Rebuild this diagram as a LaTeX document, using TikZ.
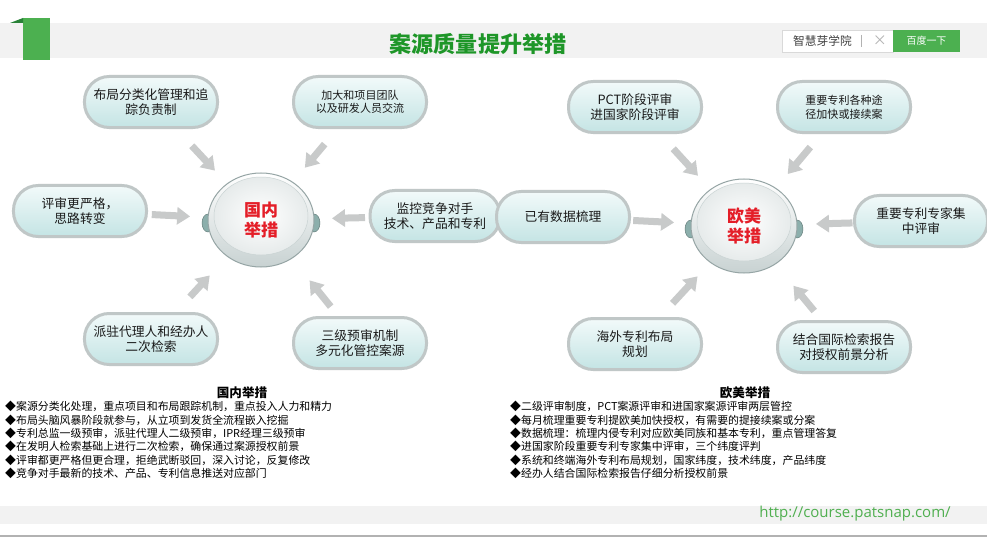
\documentclass[tikz,border=0pt]{standalone}
\usepackage{fontspec}
\setmainfont{Noto Sans CJK SC}
\newfontfamily\urlfont{Open Sans}
\usepackage{xcolor}
\usepackage{tikz}
\usetikzlibrary{arrows.meta,shapes.geometric}

\definecolor{brandgreen}{RGB}{76,176,80}
\definecolor{flaggreen}{RGB}{40,130,55}
\definecolor{titlegreen}{RGB}{30,150,40}
\definecolor{bandgray}{RGB}{242,242,242}
\definecolor{boxtop}{RGB}{242,250,250}
\definecolor{boxbot}{RGB}{196,228,228}
\definecolor{boxedge}{RGB}{192,199,199}
\definecolor{arrowgray}{RGB}{200,202,202}
\definecolor{potedge}{RGB}{150,165,165}
\definecolor{potrim}{RGB}{200,210,210}
\definecolor{handle}{RGB}{140,175,172}
\definecolor{potred}{RGB}{228,30,40}
\definecolor{urlgreen}{RGB}{80,175,80}

\tikzset{
  pill/.style={top color=boxtop, bottom color=boxbot, draw=boxedge, line width=0.09cm,
    rounded corners=0.74cm, minimum width=3.99cm, minimum height=1.53cm, inner sep=0pt,
    outer sep=0pt, align=center, text=black!90, font=\fontsize{10.9}{13}\selectfont},
  pillsmall/.style={pill, font=\fontsize{9.4}{11.6}\selectfont},
  potlabel/.style={ellipse, minimum width=3.18cm, minimum height=2.82cm, inner sep=0pt,
    outer sep=0pt, align=center, text=potred, font=\fontsize{14.5}{17.5}\selectfont\bfseries},
  flow/.style={draw=arrowgray, line width=0.21cm, -{Triangle[length=0.39cm,width=0.51cm]}},
  listhead/.style={font=\fontsize{10.7}{12}\selectfont\bfseries, inner sep=0pt},
  bullets/.style={anchor=north west, align=left, inner sep=0pt, font=\fontsize{9.3}{11.4}\selectfont}
}

\begin{document}
\begin{tikzpicture}[x=0.03cm, y=-0.03cm]
  \fill[white] (0,0) rectangle (987,537);
  \useasboundingbox (0,0) rectangle (987,537);
  % ------- header band -------
  \fill[bandgray] (0,23) rectangle (987,58);
  \fill[brandgreen] (23,18) rectangle (50,60);
  \fill[flaggreen] (10,23) -- (23,18) -- (23,23) -- cycle;
  \node[font=\fontsize{18.8}{20}\selectfont\bfseries, text=titlegreen] (title) at (478,44) {案源质量提升举措};
  \node[draw=black!15, fill=white, minimum width=3.33cm, minimum height=0.66cm, inner sep=0pt] (searchbox) at (837.5,41) {};
  \node[anchor=west, inner sep=0pt, font=\fontsize{10}{12}\selectfont, text=black!75] (query) at (793,41) {智慧芽学院};
  \draw[black!30] (861,35) -- (861,47);
  \node[text=black!30, font=\fontsize{12}{12}\selectfont] (clear) at (880,41) {×};
  \node[fill=brandgreen, minimum width=2.01cm, minimum height=0.66cm, inner sep=0pt, text=white,
    font=\fontsize{8.5}{10}\selectfont] (go) at (926.5,41) {百度一下};
  % ------- the two pots -------
  \foreach \cx/\cy in {261/220, 744/226} {
    \filldraw[fill=handle, draw=handle!70!black] (\cx-53,\cy+3) ellipse (0.18cm and 0.27cm);
    \filldraw[fill=handle, draw=handle!70!black] (\cx+53,\cy+3) ellipse (0.18cm and 0.27cm);
    \shade[top color=white, bottom color=potrim, draw=potedge, line width=0.03cm] (\cx,\cy) ellipse (1.59cm and 1.41cm);
    \shade[inner color=white, outer color=potrim!45, draw=potrim] (\cx,\cy-4) ellipse (1.41cm and 1.17cm);
  }
  \node[potlabel] (potL) at (261,220) {国内\\举措};
  \node[potlabel] (potR) at (744,226) {欧美\\举措};
  % ------- domestic measures -------
  \node[pill] (layout) at (151,102) {布局分类化管理和追\\踪负责制};
  \node[pillsmall] (team) at (360,102) {加大和项目团队\\以及研发人员交流};
  \node[pill] (review) at (80,211) {评审更严格，\\思路转变};
  \node[pill, minimum width=3.9cm] (rival) at (435,216) {监控竞争对手\\技术、产品和专利};
  \node[pill] (agent) at (151,339) {派驻代理人和经办人\\二次检索};
  \node[pill] (triple) at (360,343) {三级预审机制\\多元化管控案源};
  % ------- Europe / US measures -------
  \node[pill] (pct) at (635,107) {PCT阶段评审\\进国家阶段评审};
  \node[pillsmall] (speed) at (844,107) {重要专利各种途\\径加快或接续案};
  \node[pill] (data) at (563,217) {已有数据梳理};
  \node[pill] (expert) at (921,221) {重要专利专家集\\中评审};
  \node[pill] (abroad) at (635,344) {海外专利布局\\规划};
  \node[pill] (report) at (844,347) {结合国际检索报告\\对授权前景分析};
  % arrows into the pots
  \foreach \from/\to/\s/\e in {layout/potL/0.75/0.54, team/potL/0.65/0.57, review/potL/0.16/0.54,
      rival/potL/0.15/0.54, agent/potL/0.68/0.78, triple/potL/0.42/0.85,
      pct/potR/0.66/0.56, speed/potR/0.57/0.56, data/potR/0.11/0.51,
      expert/potR/0.06/0.57, abroad/potR/0.62/0.57, report/potR/0.41/0.85}
    \draw[flow, shorten <=\s cm, shorten >=\e cm] (\from) -- (\to);
  % ------- lists below -------
  \node[listhead] (headL) at (242,393) {国内举措};
  \node[bullets] (listL) at (5,401) {◆案源分类化处理，重点项目和布局跟踪机制，重点投入人力和精力\\
    ◆布局头脑风暴阶段就参与，从立项到发货全流程嵌入挖掘\\
    ◆专利总监一级预审，派驻代理人二级预审，IPR经理三级预审\\
    ◆在发明人检索基础上进行二次检索，确保通过案源授权前景\\
    ◆评审都更严格但更合理，拒绝武断驳回，深入讨论，反复修改\\
    ◆竞争对手最新的技术、产品、专利信息推送对应部门};
  \node[listhead] (headR) at (745,393) {欧美举措};
  \node[bullets] (listR) at (510,401) {◆二级评审制度，PCT案源评审和进国家案源评审两层管控\\
    ◆每月梳理重要专利提欧美加快授权，有需要的提接续案或分案\\
    ◆数据梳理：梳理内侵专利对应欧美同族和基本专利，重点管理答复\\
    ◆进国家阶段重要专利专家集中评审，三个纬度评判\\
    ◆系统和终端海外专利布局规划，国家纬度，技术纬度，产品纬度\\
    ◆经办人结合国际检索报告仔细分析授权前景};
  % ------- footer -------
  \fill[bandgray] (0,506) rectangle (987,524);
  \node[text=urlgreen, font=\urlfont\fontsize{12.8}{14}\selectfont] (url) at (855,514) {http://course.patsnap.com/};
  \draw[black!30, line width=0.06cm] (0,535.5) -- (987,535.5);
\end{tikzpicture}
\end{document}
